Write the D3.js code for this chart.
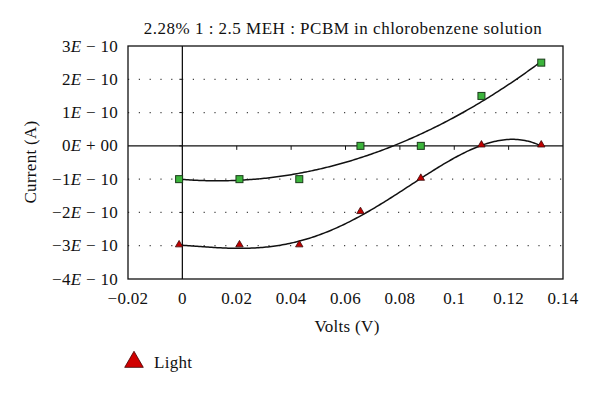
<!DOCTYPE html>
<html>
<head>
<meta charset="utf-8">
<script src="https://cdn.jsdelivr.net/npm/d3@7"></script>
<style>
  body { margin: 0; background: #fff; }
  text { font-family: "Liberation Serif", "DejaVu Serif", serif; fill: #111; }
</style>
</head>
<body>
<div id="chart"></div>
<script>
// data (current in units of 1E-10 A)
const volts = [-0.0012, 0.021, 0.043, 0.0655, 0.0877, 0.110, 0.132];
const dark = [-1, -1, -1, 0, 0, 1.5, 2.5];
const light = [-3, -3, -3, -2, -1, 0, 0];
const xTicks = [-0.02, 0, 0.02, 0.04, 0.06, 0.08, 0.1, 0.12, 0.14];
const yTicks = [3, 2, 1, 0, -1, -2, -3, -4];
const yTickLabels = ["3E − 10", "2E − 10", "1E − 10", "0E + 00", "−1E − 10", "−2E − 10", "−3E − 10", "−4E − 10"];

const W = 600, H = 396;
const plot = {left: 128, right: 563, top: 46, bottom: 279};

const svg = d3.select("#chart").append("svg")
  .attr("width", W).attr("height", H);

const x = d3.scaleLinear().domain([-0.02, 0.14]).range([plot.left, plot.right]);
const y = d3.scaleLinear().domain([-4, 3]).range([plot.bottom, plot.top]);

// polynomial least-squares trendline (like the spreadsheet's)
function polyfit(xs, ys, deg) {
  const n = deg + 1;
  const A = [];
  for (let i = 0; i < n; i++) {
    A.push(new Array(n + 1).fill(0));
    for (let j = 0; j < n; j++) A[i][j] = d3.sum(xs, v => Math.pow(v, i + j));
    A[i][n] = d3.sum(xs, (v, k) => ys[k] * Math.pow(v, i));
  }
  for (let c = 0; c < n; c++) {
    let p = c;
    for (let r = c + 1; r < n; r++) if (Math.abs(A[r][c]) > Math.abs(A[p][c])) p = r;
    [A[c], A[p]] = [A[p], A[c]];
    for (let r = 0; r < n; r++) {
      if (r === c) continue;
      const f = A[r][c] / A[c][c];
      for (let k = c; k <= n; k++) A[r][k] -= f * A[c][k];
    }
  }
  const coef = A.map((row, i) => row[n] / row[i]);
  return v => coef.reduce((s, c, i) => s + c * Math.pow(v, i), 0);
}

// grid lines (dotted)
svg.append("g").selectAll("line")
  .data(yTicks.filter(d => d !== 0 && d !== 3 && d !== -4))
  .join("line")
    .attr("x1", plot.left).attr("x2", plot.right)
    .attr("y1", d => y(d)).attr("y2", d => y(d))
    .attr("stroke", "#444").attr("stroke-width", 1.2)
    .attr("stroke-dasharray", "1.2,9.6");

// frame
svg.append("rect")
  .attr("x", plot.left).attr("y", plot.top)
  .attr("width", plot.right - plot.left).attr("height", plot.bottom - plot.top)
  .attr("fill", "none").attr("stroke", "#111").attr("stroke-width", 1.3);

// axes crossing at zero
svg.append("line")
  .attr("x1", plot.left).attr("x2", plot.right)
  .attr("y1", y(0)).attr("y2", y(0))
  .attr("stroke", "#111").attr("stroke-width", 1.3);
svg.append("line")
  .attr("x1", x(0)).attr("x2", x(0))
  .attr("y1", plot.top).attr("y2", plot.bottom)
  .attr("stroke", "#111").attr("stroke-width", 1.3);

// tick marks on the zero lines
svg.append("g").selectAll("line")
  .data(xTicks.filter(d => d > -0.02 && d < 0.14))
  .join("line")
    .attr("x1", d => x(d)).attr("x2", d => x(d))
    .attr("y1", y(0)).attr("y2", y(0) + 4)
    .attr("stroke", "#111").attr("stroke-width", 1);
svg.append("g").selectAll("line")
  .data(yTicks.filter(d => d < 3 && d > -4))
  .join("line")
    .attr("x1", x(0) - 3).attr("x2", x(0))
    .attr("y1", d => y(d)).attr("y2", d => y(d))
    .attr("stroke", "#111").attr("stroke-width", 1);

// tick labels
svg.append("g").selectAll("text")
  .data(yTicks)
  .join("text")
    .attr("x", 118).attr("y", d => y(d) + 5.5)
    .attr("text-anchor", "end").attr("font-size", 17)
    .attr("letter-spacing", 0.3)
    .each(function(d, i) {
      const parts = yTickLabels[i].split("E");
      const t = d3.select(this);
      t.append("tspan").text(parts[0]);
      t.append("tspan").attr("font-style", "italic").text("E");
      t.append("tspan").text(parts[1]);
    });

svg.append("g").selectAll("text")
  .data(xTicks)
  .join("text")
    .attr("x", d => x(d)).attr("y", 304)
    .attr("text-anchor", "middle").attr("font-size", 17)
    .attr("letter-spacing", 0.3)
    .text(d => d === 0 ? "0" : (d < 0 ? "−" : "") + String(Math.abs(+d.toFixed(2))));

// axis titles and chart title
svg.append("text")
  .attr("x", 347).attr("y", 332)
  .attr("text-anchor", "middle").attr("font-size", 17)
  .attr("letter-spacing", 0.3)
  .text("Volts (V)");
svg.append("text")
  .attr("transform", "translate(36,162) rotate(-90)")
  .attr("text-anchor", "middle").attr("font-size", 17)
  .attr("letter-spacing", 0.3)
  .text("Current (A)");
svg.append("text")
  .attr("x", 343).attr("y", 34)
  .attr("text-anchor", "middle").attr("font-size", 17)
  .attr("letter-spacing", 0.5)
  .text("2.28% 1 : 2.5 MEH : PCBM in chlorobenzene solution");

// trendlines
const line = d3.line().x(d => x(d[0])).y(d => y(d[1]));
const xs = d3.range(0, 201).map(i => volts[0] + (volts[volts.length - 1] - volts[0]) * i / 200);
[[dark, 3], [light, 4]].forEach(([series, deg]) => {
  const f = polyfit(volts, series, deg);
  svg.append("path")
    .attr("d", line(xs.map(v => [v, f(v)])))
    .attr("fill", "none").attr("stroke", "#111").attr("stroke-width", 1.5);
});

// markers
svg.append("g").selectAll("rect")
  .data(volts.map((v, i) => [v, dark[i]]))
  .join("rect")
    .attr("x", d => x(d[0]) - 3.5).attr("y", d => y(d[1]) - 3.5)
    .attr("width", 7).attr("height", 7)
    .attr("fill", "#3cb43c").attr("stroke", "#1a3a1a").attr("stroke-width", 1);

const tri = d3.symbol().type(d3.symbolTriangle).size(24);
svg.append("g").selectAll("path")
  .data(volts.map((v, i) => [v, light[i]]))
  .join("path")
    .attr("transform", d => `translate(${x(d[0])},${y(d[1]) - 1})`)
    .attr("d", tri)
    .attr("fill", "#c00000").attr("stroke", "#3a0a0a").attr("stroke-width", 0.8);

// legend
svg.append("path")
  .attr("transform", "translate(134,362)")
  .attr("d", d3.symbol().type(d3.symbolTriangle).size(150))
  .attr("fill", "#d00000").attr("stroke", "#400").attr("stroke-width", 0.8);
svg.append("text")
  .attr("x", 154).attr("y", 368).attr("font-size", 17)
  .attr("letter-spacing", 0.3)
  .text("Light");
</script>
</body>
</html>
